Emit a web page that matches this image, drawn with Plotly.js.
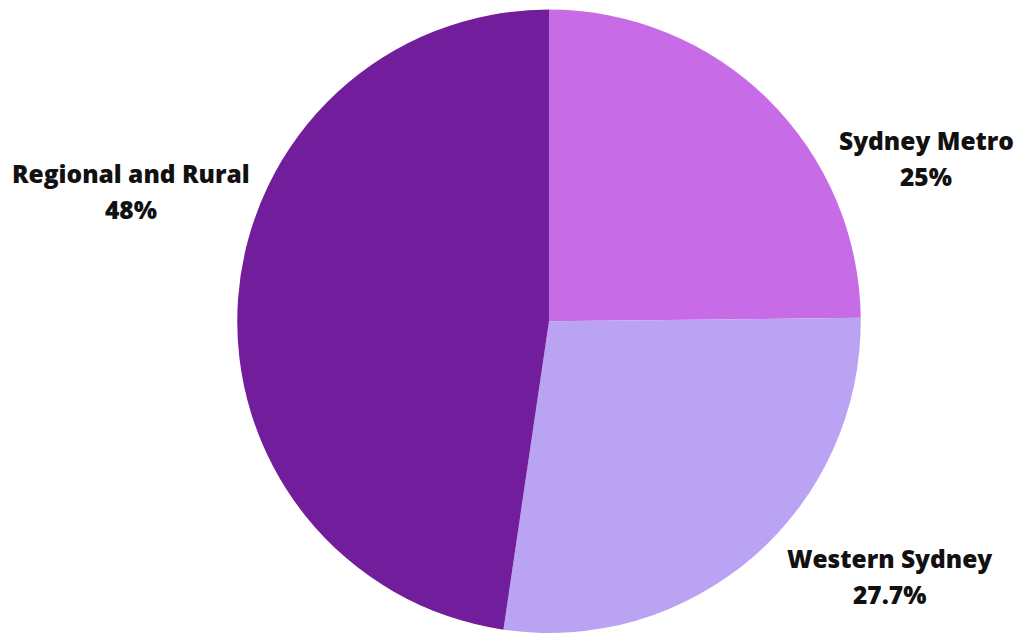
<!DOCTYPE html>
<html>
<head>
<meta charset="utf-8">
<script src="https://cdn.plot.ly/plotly-3.0.1.min.js"></script>
<style>html,body{margin:0;padding:0;background:#fff;}#chart{width:1016px;height:633px;}</style>
</head>
<body>
<div id="chart"></div>
<script>
const categories = ["Sydney Metro", "Western Sydney", "Regional and Rural"];
const values = [25, 27.7, 48];
const valueLabels = ["25%", "27.7%", "48%"];
const colors = ["#C86BE6", "#BBA3F4", "#721D9C"];

// label positions (paper px) for the annotations
const labelPos = [[926, 140], [889, 558], [131, 173]];
const lineGap = 36;
const W = 1016, H = 633;

const fnt = {family: "'Open Sans', sans-serif", size: 24.5, color: "#111", weight: 800};
const annotations = [];
categories.forEach((c, i) => {
  const [px, py] = labelPos[i];
  annotations.push({
    text: c, x: px / W, y: 1 - py / H, xref: "paper", yref: "paper",
    xanchor: "center", yanchor: "middle", showarrow: false, font: fnt
  });
  annotations.push({
    text: valueLabels[i], x: px / W, y: 1 - (py + lineGap) / H, xref: "paper", yref: "paper",
    xanchor: "center", yanchor: "middle", showarrow: false, font: fnt
  });
});

const data = [{
  type: "pie",
  labels: categories,
  values: values,
  marker: {colors: colors, line: {width: 0}},
  sort: false,
  direction: "clockwise",
  rotation: 0,
  textinfo: "none",
  hoverinfo: "label+percent",
  showlegend: false,
  domain: {x: [236 / W, 862 / W], y: [0, 0.985]}
}];

const layout = {
  width: W, height: H,
  margin: {l: 0, r: 0, t: 0, b: 0},
  paper_bgcolor: "#fff",
  showlegend: false,
  annotations: annotations
};

Plotly.newPlot("chart", data, layout, {displayModeBar: false, staticPlot: true});
</script>
</body>
</html>
